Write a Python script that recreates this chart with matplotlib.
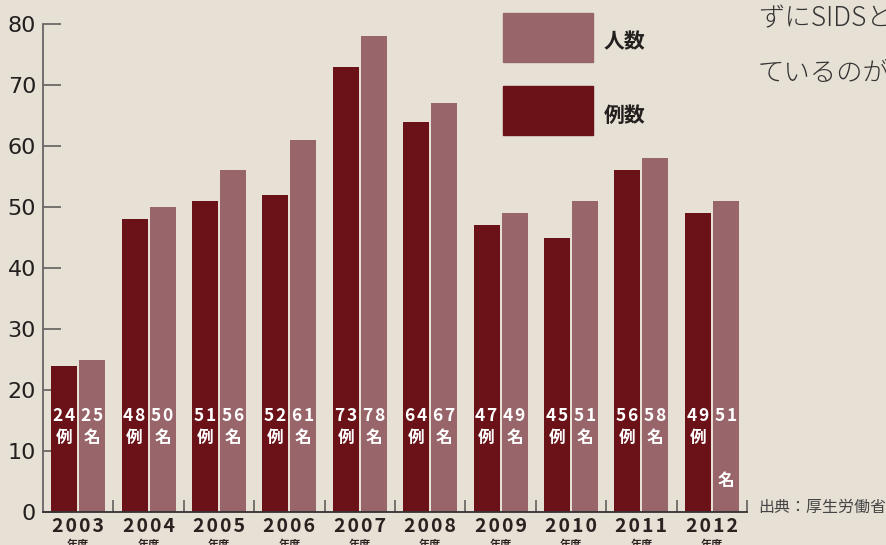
import matplotlib.pyplot as plt
from matplotlib.patches import Rectangle
from matplotlib.transforms import blended_transform_factory
import numpy as np

# データ
years = ['2003', '2004', '2005', '2006', '2007', '2008', '2009', '2010', '2011', '2012']
rei = [24, 48, 51, 52, 73, 64, 47, 45, 56, 49]      # 例数
nin = [25, 50, 56, 61, 78, 67, 49, 51, 58, 51]      # 人数
yticks = [0, 10, 20, 30, 40, 50, 60, 70, 80]

bg = '#e7e0d5'
dark = '#6b1218'
light = '#98666a'
jp = ['Noto Sans CJK JP', 'DejaVu Sans']
num = ['DejaVu Sans']
hs = '\u200a'  # 字間


def spaced(s):
    return hs.join(s)


plt.rcParams['font.family'] = jp

fig = plt.figure(figsize=(8.86, 5.45), dpi=100, facecolor=bg)
W, H = 886, 545
ax = fig.add_axes([43 / W, 33 / H, 704 / W, 488 / H], facecolor=bg)

x = np.arange(len(years))
bw = 26 / 70.4
off = 14 / 70.4
ax.bar(x - off, rei, width=bw, color=dark, zorder=3)
ax.bar(x + off, nin, width=bw, color=light, zorder=3)

ax.set_xlim(-0.5, 9.5)
ax.set_ylim(0, 80)

# 軸
for s in ['top', 'right']:
    ax.spines[s].set_visible(False)
ax.spines['left'].set_color('#666666')
ax.spines['left'].set_linewidth(1.3)
ax.spines['bottom'].set_color('#333333')
ax.spines['bottom'].set_linewidth(1.3)
ax.spines['left'].set_zorder(4)
ax.spines['bottom'].set_zorder(4)

ax.set_yticks(yticks)
ax.set_yticklabels([str(v) for v in yticks], fontsize=16, color='#231f1e', family=num)
ax.tick_params(axis='y', direction='in', length=13, width=1.1, color='#555555', pad=5)

ax.set_xticks(x + 0.5, minor=True)
ax.set_xticks([])
ax.tick_params(axis='x', which='minor', direction='in', length=9, width=1.1, color='#555555')

# 年度ラベル
tr = blended_transform_factory(ax.transData, ax.transAxes)
for i, y in enumerate(years):
    ax.text(i, -15 / 488, spaced(y), ha='center', va='center', fontsize=14, fontweight='bold',
            color='#2a2220', transform=tr)
    ax.text(i, -32 / 488, '年度', ha='center', va='center', fontsize=8, fontweight='bold',
            color='#2a2220', transform=tr)

# 棒の中のラベル
for i in range(len(years)):
    ax.text(i - off, 15.7, spaced(str(rei[i])), ha='center', va='center', fontsize=12.5,
            fontweight='bold', color='white', zorder=5)
    ax.text(i - off, 12.1, '例', ha='center', va='center', fontsize=12,
            fontweight='bold', color='white', zorder=5)
    ax.text(i + off, 15.7, spaced(str(nin[i])), ha='center', va='center', fontsize=12.5,
            fontweight='bold', color='white', zorder=5)
    ny = 5.1 if i == len(years) - 1 else 12.1
    ax.text(i + off, ny, '名', ha='center', va='center', fontsize=12,
            fontweight='bold', color='white', zorder=5)

# 凡例
fig.patches.append(Rectangle((503 / W, 1 - 62 / H), 90 / W, 49 / H, color=light,
                             transform=fig.transFigure))
fig.patches.append(Rectangle((503 / W, 1 - 135 / H), 90 / W, 49 / H, color=dark,
                             transform=fig.transFigure))
fig.text(604 / W, 1 - 42 / H, '人数', fontsize=15, fontweight='bold', color='#231f1e', va='center')
fig.text(604 / W, 1 - 115 / H, '例数', fontsize=15, fontweight='bold', color='#231f1e', va='center')

# 右側の本文・出典（元画像でも右端で切れている）
fig.text(758 / W, 1 - 18 / H, 'ずにSIDSと', fontsize=19, fontweight='light', color='#333333', va='center')
fig.text(758 / W, 1 - 73 / H, 'ているのが', fontsize=19, fontweight='light', color='#333333', va='center')
fig.text(758 / W, 1 - 507 / H, '出典：厚生労働省', fontsize=11.5, color='#444444', va='center')

fig.savefig('out.png', dpi=100, facecolor=bg)
